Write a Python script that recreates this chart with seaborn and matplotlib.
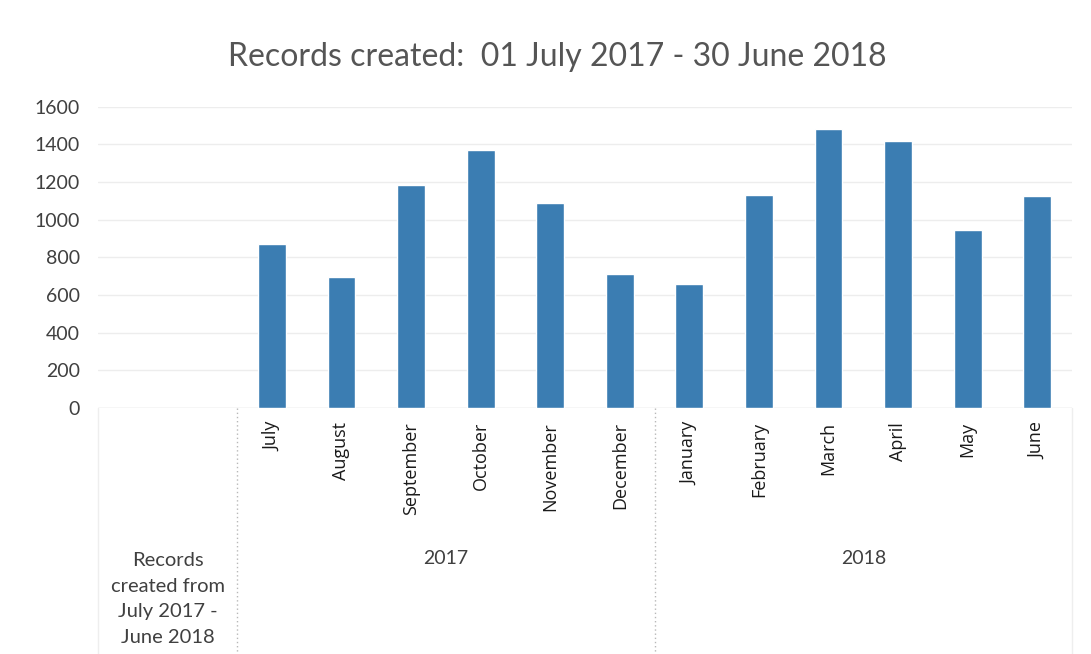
import matplotlib
matplotlib.use('Agg')
import matplotlib.pyplot as plt
import matplotlib.transforms as mtransforms
import seaborn as sns
import pandas as pd

# ==================== Data ====================
months = ['July', 'August', 'September', 'October', 'November', 'December',
          'January', 'February', 'March', 'April', 'May', 'June']
years = ['2017'] * 6 + ['2018'] * 6
records = [872, 695, 1186, 1368, 1089, 711, 658, 1133, 1479, 1416, 947, 1124]
yticks = [0, 200, 400, 600, 800, 1000, 1200, 1400, 1600]
group_label = 'Records\ncreated from\nJuly 2017 -\nJune 2018'
title = 'Records created:  01 July 2017 - 30 June 2018'

df = pd.DataFrame({'month': months, 'year': years, 'records': records})

# two blank slots on the left, where the outer group label sits
blank = ['_b1', '_b2']
order = blank + months

sns.set_style('white')
plt.rcParams['font.family'] = ['Lato', 'DejaVu Sans']

fig = plt.figure(figsize=(10.91, 6.54), dpi=100)
ax = fig.add_axes([0.0898, 0.3761, 0.8928, 0.4608])

sns.barplot(data=df, x='month', y='records', order=order, color='#3B7DB2',
            saturation=1, width=0.4, ax=ax, errorbar=None)

ax.set_ylim(0, 1600)
ax.set_xlim(-0.5, len(order) - 0.5)
ax.set_yticks(yticks)
ax.set_yticklabels([str(t) for t in yticks], fontsize=14, color='#404040')
ax.tick_params(axis='y', length=0, pad=13)
ax.yaxis.grid(True, color='#EDEDED', linewidth=1)
ax.set_axisbelow(True)
for s in ax.spines.values():
    s.set_visible(False)
ax.axhline(0, color='#E3E3E3', linewidth=1, zorder=0)

# month labels
ax.set_xticks(range(len(order)))
ax.set_xticklabels([''] * len(blank) + months, rotation=90, fontsize=13,
                   family=['Open Sans', 'DejaVu Sans'], color='#1A1A1A')
ax.tick_params(axis='x', length=0, pad=10)
ax.set_xlabel('')
ax.set_ylabel('')

# second level of the category axis
trans = mtransforms.blended_transform_factory(ax.transData, fig.transFigure)
n_blank = len(blank)
for yr in ['2017', '2018']:
    idx = [i + n_blank for i, y in enumerate(years) if y == yr]
    ax.text((idx[0] + idx[-1]) / 2, 1 - 558 / 654, yr, transform=trans,
            ha='center', va='center', fontsize=14, color='#404040')
ax.text((n_blank - 1) / 2, 1 - 599 / 654, group_label, transform=trans,
        ha='center', va='center', fontsize=14.5, color='#404040', linespacing=1.62)

# dotted dividers between the category groups
for xd in [n_blank - 0.5, n_blank + 5.5]:
    ax.plot([xd, xd], [1 - 408 / 654, 0], transform=trans, color='#B8B8B8',
            linestyle=(0, (1, 2)), linewidth=1, clip_on=False)
for xd in [-0.5, len(order) - 0.5]:
    ax.plot([xd, xd], [1 - 408 / 654, 0], transform=trans, color='#EEEEEE',
            linewidth=1, clip_on=False)

fig.text(0.511, 0.913, title, ha='center', va='center', fontsize=23, color='#555555')

fig.savefig('out.png', dpi=100, facecolor='white')
